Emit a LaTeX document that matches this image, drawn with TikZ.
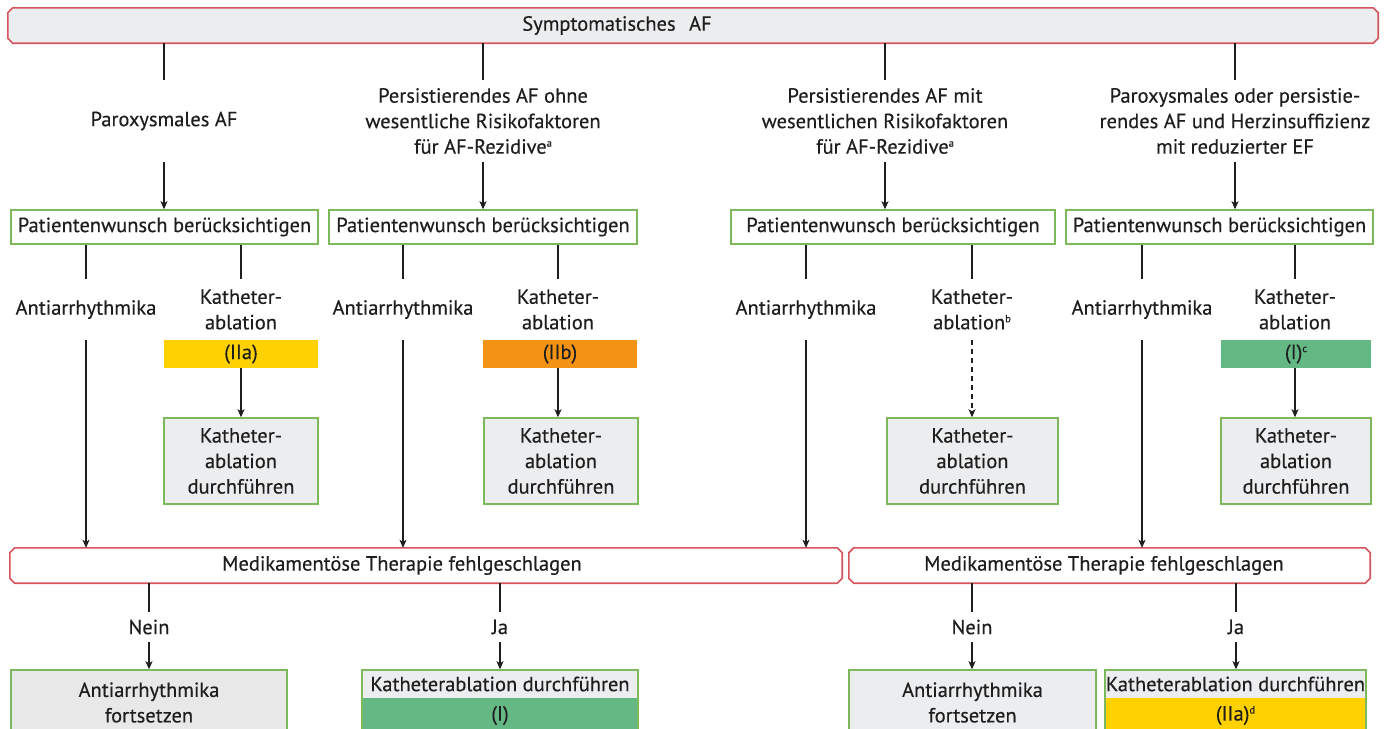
\documentclass[tikz,border=0pt]{standalone}
\usepackage{fontspec}
\setmainfont{PT Sans}[FakeBold=0.35]
\usetikzlibrary{arrows.meta}
\definecolor{redb}{HTML}{D6545C}
\definecolor{gborder}{HTML}{7DB85C}
\definecolor{lgray}{HTML}{ECEDEF}
\definecolor{wgray}{HTML}{E8E8E8}
\definecolor{cyellow}{HTML}{FFD100}
\definecolor{corange}{HTML}{F39314}
\definecolor{cgreen}{HTML}{64B883}
\definecolor{ink}{HTML}{1E1E1E}
\newcommand\smallsup[1]{\raisebox{7pt}{\fontsize{10.5}{10.5}\selectfont #1}}
\newcommand\chamfpath[2]{%
  \filldraw[draw=redb, line width=1.6pt, fill=#2]
    ([xshift=5pt]#1.north west) -- ([xshift=-5pt]#1.north east)
    -- ([yshift=-5pt]#1.north east) -- ([yshift=5pt]#1.south east)
    -- ([xshift=-5pt]#1.south east) -- ([xshift=5pt]#1.south west)
    -- ([yshift=5pt]#1.south west) -- ([yshift=-5pt]#1.north west) -- cycle;}
\begin{document}
\begin{tikzpicture}[x=1pt,y=-1pt,
  every node/.style={font=\fontsize{20.5}{25.5}\selectfont, text=ink, inner sep=0pt, align=center},
  barshape/.style={minimum height=35pt},
  wishbox/.style={draw=gborder, line width=1.5pt, fill=white, minimum height=34pt},
  resbox/.style={draw=gborder, line width=1.5pt, fill=lgray},
  colbar/.style={minimum height=28pt},
  conn/.style={draw=ink, line width=1.1pt},
  arr/.style={conn, -{Stealth[length=8pt,width=7pt,inset=2pt]}}
]
\useasboundingbox (0,0) rectangle (1386,728);
\clip (0,0) rectangle (1386,728);

% top banner
\node[barshape, minimum width=1370pt] (top) at (693,25.5) {};
\chamfpath{top}{lgray}
\node (toptxt) at (617,25.5) {Symptomatisches\hspace{8pt} AF};

% conditions
\node[minimum height=82pt] (d1) at (164,121) {Paroxysmales AF};
\node[minimum height=82pt] (d2) at (483,121) {Persistierendes AF ohne\\wesentliche Risikofaktoren\\für AF-Rezidive\smallsup{a}};
\node[minimum height=82pt] (d3) at (885,121) {Persistierendes AF mit\\wesentlichen Risikofaktoren\\für AF-Rezidive\smallsup{a}};
\node[minimum height=82pt] (d4) at (1235,121) {Paroxysmales oder persistie-\\rendes AF und Herzinsuffizienz\\mit reduzierter EF};

% patient wish boxes
\node[wishbox, minimum width=307pt] (p1) at (164.5,227) {Patientenwunsch berücksichtigen};
\node[wishbox, minimum width=308pt] (p2) at (483,227) {Patientenwunsch berücksichtigen};
\node[wishbox, minimum width=324pt] (p3) at (893,227) {Patientenwunsch berücksichtigen};
\node[wishbox, minimum width=307pt] (p4) at (1219.5,227) {Patientenwunsch berücksichtigen};

% options
\node[minimum height=61pt] (a1) at (86,309.5) {Antiarrhythmika};
\node[minimum height=61pt] (k1) at (241,309.5) {Katheter-\\ablation};
\node[minimum height=61pt] (a2) at (403,309.5) {Antiarrhythmika};
\node[minimum height=61pt] (k2) at (558,309.5) {Katheter-\\ablation};
\node[minimum height=61pt] (a3) at (806,309.5) {Antiarrhythmika};
\node[minimum height=61pt] (k3) at (972,309.5) {Katheter-\\ablation\smallsup{b}};
\node[minimum height=61pt] (a4) at (1142,309.5) {Antiarrhythmika};
\node[minimum height=61pt] (k4) at (1295,309.5) {Katheter-\\ablation};

% recommendation bars
\node[colbar, fill=cyellow, minimum width=154pt] (b1) at (241,354) {(IIa)};
\node[colbar, fill=corange, minimum width=154pt] (b2) at (560,354) {(IIb)};
\node[colbar, fill=cgreen, minimum width=150pt] (b4) at (1296,354) {(I)\smallsup{c}};

% result boxes
\node[resbox, minimum width=154pt, minimum height=86pt] (r1) at (241,461) {Katheter-\\ablation\\durchführen};
\node[resbox, minimum width=154pt, minimum height=86pt] (r2) at (561,461) {Katheter-\\ablation\\durchführen};
\node[resbox, minimum width=171pt, minimum height=86pt] (r3) at (972.5,461) {Katheter-\\ablation\\durchführen};
\node[resbox, minimum width=150pt, minimum height=86pt] (r4) at (1296,461) {Katheter-\\ablation\\durchführen};

% medication failed bars
\node[barshape, minimum width=832pt] (m1) at (426,565.5) {};
\chamfpath{m1}{white}
\node (m1txt) at (402,565.5) {Medikamentöse Therapie fehlgeschlagen};
\node[barshape, minimum width=521pt] (m2) at (1109.5,565.5) {};
\chamfpath{m2}{white}
\node (m2txt) at (1104,565.5) {Medikamentöse Therapie fehlgeschlagen};

% Nein / Ja
\node[minimum height=30pt] (n1) at (149,627) {Nein};
\node[minimum height=30pt] (j1) at (500,627) {Ja};
\node[minimum height=30pt] (n2) at (972,627) {Nein};
\node[minimum height=30pt] (j2) at (1236,627) {Ja};

% bottom boxes
\node[draw=gborder, line width=1.5pt, fill=wgray, minimum width=276pt, minimum height=65pt] (f1) at (149,702.5) {Antiarrhythmika\\fortsetzen};
\node[draw=gborder, line width=1.5pt, fill=lgray, minimum width=247pt, minimum height=65pt] (f2) at (972.5,702.5) {Antiarrhythmika\\fortsetzen};

\node[fill=lgray, minimum width=276pt, minimum height=27pt] (kh1) at (500,684) {Katheterablation durchführen};
\node[fill=cgreen, minimum width=276pt, minimum height=36pt] (kb1) at (500,715.5) {(I)};
\node[draw=gborder, line width=1.5pt, minimum width=276pt, minimum height=65pt] (kd1) at (500,702.5) {};
\node[fill=lgray, minimum width=261pt, minimum height=27pt] (kh2) at (1235.5,684) {Katheterablation durchführen};
\node[fill=cyellow, minimum width=261pt, minimum height=36pt] (kb2) at (1235.5,715.5) {(IIa)\smallsup{d}};
\node[draw=gborder, line width=1.5pt, minimum width=261pt, minimum height=65pt] (kd2) at (1235.5,702.5) {};

% connectors: top to conditions
\foreach \d in {d1,d2,d3,d4}{
  \draw[conn] (top.south -| \d.north) -- (\d.north);
}
\draw[arr] (d1.south) -- (d1.south |- p1.north);
\draw[arr] (d2.south) -- (d2.south |- p2.north);
\draw[arr] (d3.south) -- (d3.south |- p3.north);
\draw[arr] (d4.south) -- (d4.south |- p4.north);

% wish to options
\draw[conn] (p1.south -| a1.north) -- (a1.north);
\draw[conn] (p1.south -| k1.north) -- (k1.north);
\draw[conn] (p2.south -| a2.north) -- (a2.north);
\draw[conn] (p2.south -| k2.north) -- (k2.north);
\draw[conn] (p3.south -| a3.north) -- (a3.north);
\draw[conn] (p3.south -| k3.north) -- (k3.north);
\draw[conn] (p4.south -| a4.north) -- (a4.north);
\draw[conn] (p4.south -| k4.north) -- (k4.north);

% bars to results
\draw[arr] (b1.south -| k1.south) -- (r1.north -| k1.south);
\draw[arr] (b2.south -| k2.south) -- (r2.north -| k2.south);
\draw[arr, dash pattern=on 5pt off 4pt] (k3.south) -- (k3.south |- r3.north);
\draw[arr] (b4.south -| k4.south) -- (r4.north -| k4.south);

% antiarrhythmika to medication failed
\draw[arr] (a1.south) -- (a1.south |- m1.north);
\draw[arr] (a2.south) -- (a2.south |- m1.north);
\draw[arr] (a3.south) -- (a3.south |- m1.north);
\draw[arr] (a4.south) -- (a4.south |- m2.north);

% medication failed to Nein/Ja
\draw[conn] (m1.south -| n1.north) -- (n1.north);
\draw[conn] (m1.south -| j1.north) -- (j1.north);
\draw[conn] (m2.south -| n2.north) -- (n2.north);
\draw[conn] (m2.south -| j2.north) -- (j2.north);
\draw[arr] (n1.south) -- (n1.south |- f1.north);
\draw[arr] (j1.south) -- (j1.south |- kd1.north);
\draw[arr] (n2.south) -- (n2.south |- f2.north);
\draw[arr] (j2.south) -- (j2.south |- kd2.north);
\end{tikzpicture}
\end{document}
